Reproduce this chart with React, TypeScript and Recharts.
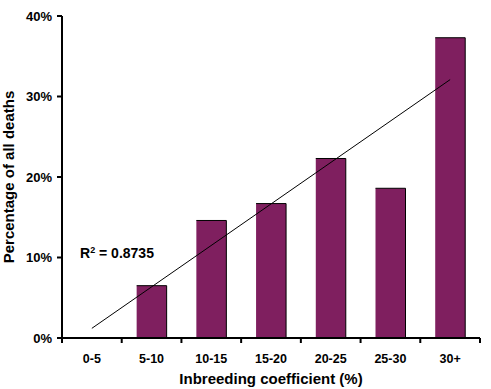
import React from 'react';
import { ComposedChart, Bar, Line, XAxis, YAxis, Customized } from 'recharts';

const categories = ['0-5', '5-10', '10-15', '15-20', '20-25', '25-30', '30+'];
const deathShare = [0, 6.5, 14.6, 16.7, 22.3, 18.6, 37.3];
const trendValues: (number | null)[] = [1.2, null, null, null, null, null, 32.1];
const yTicks = [0, 10, 20, 30, 40];
const rSquaredText = '0.8735';
const xAxisTitle = 'Inbreeding coefficient (%)';
const yAxisTitle = 'Percentage of all deaths';

const data = categories.map((c, i) => ({ cat: c, value: deathShare[i], trend: trendValues[i] }));

const W = 491;
const H = 389;
const M = { top: 16, right: 11, left: 0, bottom: 0 };
const Y_W = 62;
const X_H = 51;
const PLOT_L = M.left + Y_W;
const PLOT_R = W - M.right;
const PLOT_T = M.top;
const PLOT_B = H - M.bottom - X_H;
const band = (PLOT_R - PLOT_L) / categories.length;
const BAR_COLOR = '#7F1F5F';
const FONT = '"Liberation Sans", Arial, sans-serif';

function XTick(props: any) {
  const { x, y, payload, index } = props;
  const left = x - band / 2;
  const right = x + band / 2;
  return (
    <g>
      <line x1={left} x2={left} y1={y} y2={y + 5} stroke="#000" strokeWidth={2} />
      {index === categories.length - 1 && (
        <line x1={right} x2={right} y1={y} y2={y + 5} stroke="#000" strokeWidth={2} />
      )}
      <text x={x} y={y + 25} textAnchor="middle" fontSize={12.5} fontWeight="bold" fill="#000" fontFamily={FONT}>
        {payload.value}
      </text>
    </g>
  );
}

function BarShape(props: any) {
  const { x, y, width, height } = props;
  if (!height || height <= 0) return null;
  return (
    <g>
      <rect x={x} y={y} width={width} height={height} fill={BAR_COLOR} />
      <path d={`M${x},${y}H${x + width}V${y + height}`} stroke="#000" fill="none" strokeWidth={1} />
    </g>
  );
}

function Annotations() {
  const cy = (PLOT_T + PLOT_B) / 2;
  const cx = (PLOT_L + PLOT_R) / 2;
  return (
    <g fontFamily={FONT} fill="#000">
      <text
        transform={`translate(14,${cy}) rotate(-90)`}
        textAnchor="middle"
        fontSize={15}
        fontWeight="bold"
      >
        {yAxisTitle}
      </text>
      <text x={cx} y={H - 5} textAnchor="middle" fontSize={15} fontWeight="bold">
        {xAxisTitle}
      </text>
      <text x={80} y={258} fontSize={14} fontWeight="bold">
        R<tspan fontSize={9} dy={-5}>2</tspan>
        <tspan dy={5}>{' = ' + rSquaredText}</tspan>
      </text>
    </g>
  );
}

export default function App() {
  return (
    <div style={{ position: 'absolute', left: 0, top: 0, width: W, height: H, background: '#fff', fontFamily: FONT }}>
      <ComposedChart width={W} height={H} data={data} margin={M} barCategoryGap="25%">
        <XAxis
          dataKey="cat"
          height={X_H}
          interval={0}
          tickLine={false}
          tickSize={0}
          tickMargin={0}
          axisLine={{ stroke: '#000', strokeWidth: 2 }}
          tick={<XTick />}
        />
        <YAxis
          width={Y_W}
          domain={[0, 40]}
          ticks={yTicks}
          interval={0}
          tickFormatter={(v: number) => `${v}%`}
          axisLine={{ stroke: '#000', strokeWidth: 2 }}
          tickLine={{ stroke: '#000', strokeWidth: 2 }}
          tickSize={5}
          tickMargin={5}
          tick={{ fill: '#000', fontSize: 13, fontWeight: 'bold', fontFamily: FONT }}
        />
        <Bar dataKey="value" fill={BAR_COLOR} shape={<BarShape />} isAnimationActive={false} />
        <Line
          dataKey="trend"
          connectNulls
          stroke="#000"
          strokeWidth={1}
          dot={false}
          activeDot={false}
          isAnimationActive={false}
        />
        <Customized component={Annotations} />
      </ComposedChart>
    </div>
  );
}
